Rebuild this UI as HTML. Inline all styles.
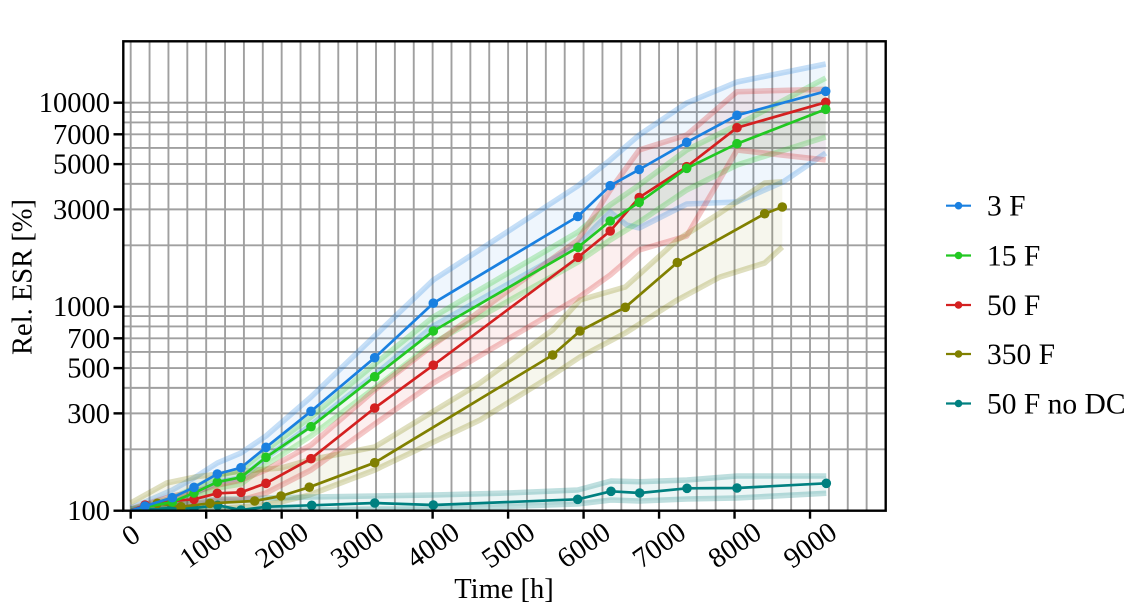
<!DOCTYPE html>
<html><head><meta charset="utf-8"><style>
html,body{margin:0;padding:0;background:#fff;}
svg{display:block;font-family:"Liberation Serif","Times New Roman",serif;}
</style></head><body>
<svg width="1130" height="607" viewBox="0 0 1130 607" xmlns="http://www.w3.org/2000/svg">
<defs><clipPath id="pc"><rect x="123.3" y="41.3" width="762.4" height="469.4"/></clipPath></defs>
<rect width="1130" height="607" fill="#fff"/>
<g id="grid" stroke="#a0a0a0" stroke-width="1.9"></g>
<g id="bands" clip-path="url(#pc)"></g>
<g id="lines" clip-path="url(#pc)"></g>
<g id="axes"></g>
<text x="22" y="277" font-size="28.5" text-anchor="middle" transform="rotate(-90 22 277)" dy="9.5">Rel. ESR [%]</text>
<text x="504" y="598" font-size="28.5" text-anchor="middle">Time [h]</text>
<g id="legend" font-size="29.5"></g>
</svg>
<script>
(function(){
var NS="http://www.w3.org/2000/svg";
function el(p,n,a,t){var e=document.createElementNS(NS,n);for(var k in a)e.setAttribute(k,a[k]);if(t!==undefined)e.textContent=t;p.appendChild(e);return e;}
var L=123.3,R=885.7,T=41.3,B=510.7;
function X(t){return 130.7+t*0.07548;}
function Y(v){return 510.7-204*Math.log10(v/100);}
var g=document.getElementById('grid');
for(var t=0;t<10000;t+=250){var x=X(t);el(g,'line',{x1:x,y1:T,x2:x,y2:B});}
var hv=[];for(var v=200;v<1000;v+=100)hv.push(v);for(v=1000;v<=10000;v+=1000)hv.push(v);hv.push(20000);
hv.forEach(function(v){var y=Y(v);el(g,'line',{x1:L,y1:y,x2:R,y2:y});});
var S=[
{c:"#1a80e0",m:[[130.7,510.7],[145,506],[172.3,497.7],[194,487.3],[217.3,474],[241,467.7],[266,447.3],[311,411.3],[374.7,357.7],[433.3,303.2],[577.7,216.5],[610.2,185.7],[639.2,169.5],[686.7,142.3],[737,115.3],[825.7,91.3]],
 u:[[130.7,508],[145,502],[172.3,490],[194,478],[217.3,463],[241,453],[266,436],[311,397],[374.7,336],[433.3,280],[577.7,186],[610.2,160],[639.2,135],[686.7,103],[737,82],[825.7,64]],
 l:[[130.7,511],[145,509],[172.3,503],[194,494],[217.3,482],[241,478],[266,458],[311,425],[374.7,375],[433.3,326],[577.7,245],[610.2,212],[626.7,225],[639.2,228],[686.7,204],[737,202],[783,182],[825.7,153]]},
{c:"#22c822",m:[[130.7,510.7],[145,507],[172.3,502],[194,493],[217.3,482],[241,477.3],[266,457.3],[311,426.7],[374.7,376.7],[433.3,331],[578,247.3],[610.2,221],[639.2,202.3],[686.7,168.3],[737,143.7],[825.7,109.3]],
 u:[[130.7,509],[172.3,498],[194,488],[217.3,476],[241,470],[266,450],[311,417],[374.7,364],[433.3,317],[578,232],[610.2,205],[639.2,185],[686.7,150],[737,125],[825.7,78]],
 l:[[130.7,511],[172.3,505],[194,498],[217.3,488],[241,484],[266,465],[311,436],[374.7,388],[433.3,343],[578,262],[610.2,240],[639.2,222],[686.7,190],[737,165],[825.7,137]]},
{c:"#d42020",m:[[130.7,510.7],[145,505],[172.3,501],[194,499.3],[217.3,493.3],[241,492.3],[266,483.3],[311,458.7],[374.7,408],[433.3,365.2],[578,257.3],[610.2,231],[639.2,197.5],[686.7,166.7],[737,127.7],[825.7,102.3]],
 u:[[130.7,509],[172.3,496],[194,492],[217.3,485],[241,480],[266,470],[311,445],[374.7,390],[433.3,345],[578,240],[610.2,190],[639.2,150],[686.7,135],[737,91.7],[825.7,89.3]],
 l:[[130.7,511],[172.3,505],[194,504],[217.3,500],[241,500],[266,493],[311,470],[374.7,424],[433.3,383],[578,298],[610.2,275],[639.2,250],[686.7,236],[737,150],[825.7,160]]},
{c:"#808000",m:[[130.7,510.7],[157.3,503.3],[181,506.7],[210,503.3],[254.7,501],[281,496],[309.3,487.2],[374.7,462.7],[552.7,355],[580,331],[625.3,307.3],[677.3,262.5],[764.7,213.7],[782.3,207]],
 u:[[130.7,503],[166.7,483],[196.7,476.7],[226.7,473],[254.7,470],[281,468],[309.3,460],[374.7,447],[480,383],[552.7,330],[580,300],[625.3,287],[677.3,240],[720,213],[764.7,183],[782.3,181.7]],
 l:[[130.7,511],[157,508],[181,510],[210,509],[254.7,506],[281,502],[309.3,495],[374.7,470],[480,420],[552.7,375],[580,357],[625.3,333],[677.3,300],[720,277],[764.7,263],[782.3,247]]},
{c:"#008080",m:[[130.7,510.7],[171.7,508],[194,508],[217.7,505.3],[241,510],[266.7,506.7],[311.7,505.3],[374.7,503],[433.3,505],[577.7,499.3],[611,491.3],[639.7,493],[687,488.3],[737,488],[826.3,483.3]],
 u:[[130.7,509],[171.7,505],[194,502],[217.7,499],[241,499],[266.7,498],[311.7,497],[374.7,496],[433.3,495],[500,493.3],[577.7,490],[611,481],[639.7,481.7],[687,480],[737,476],[826.3,476]],
 l:[[130.7,511],[171.7,511],[194,511],[217.7,510],[241,512],[266.7,510],[311.7,510],[374.7,509],[433.3,509],[500,506.7],[577.7,504],[611,500],[639.7,501],[687,499],[737,498],[826.3,493.3]]}
];
function pts(a){return a.map(function(p){return p[0]+","+p[1];}).join(" ");}
var bg=document.getElementById('bands'),lg=document.getElementById('lines');
S.forEach(function(s){
 el(bg,'polygon',{points:pts(s.u.concat(s.l.slice().reverse())),fill:s.c,'fill-opacity':0.07,stroke:'none'});
});
S.forEach(function(s){
 el(bg,'polyline',{points:pts(s.u),fill:'none',stroke:s.c,'stroke-opacity':0.25,'stroke-width':5.5,'stroke-linejoin':'round'});
 el(bg,'polyline',{points:pts(s.l),fill:'none',stroke:s.c,'stroke-opacity':0.25,'stroke-width':5.5,'stroke-linejoin':'round'});
});
S.slice().reverse().forEach(function(s){
 el(lg,'polyline',{points:pts(s.m),fill:'none',stroke:s.c,'stroke-width':2.7,'stroke-linejoin':'round'});
 s.m.forEach(function(p,i){if(i>0)el(lg,'circle',{cx:p[0],cy:p[1],r:4.8,fill:s.c});});
});
var ax=document.getElementById('axes');
el(ax,'rect',{x:L,y:T,width:R-L,height:B-T,fill:'none',stroke:'#000','stroke-width':2.4});
[100,300,500,700,1000,3000,5000,7000,10000].forEach(function(v){var y=Y(v);
 el(ax,'line',{x1:113.5,y1:y,x2:L,y2:y,stroke:'#000','stroke-width':2.4});
 el(ax,'text',{x:110,y:y+9.5,'font-size':28.5,'text-anchor':'end'},String(v));});
for(var k=0;k<=9;k++){var x=X(k*1000);
 el(ax,'line',{x1:x,y1:B,x2:x,y2:B+8,stroke:'#000','stroke-width':2.4});
 var lab=String(k*1000);var cy=(k==0)?535:545;
 el(ax,'text',{x:0,y:0,'font-size':28.5,'text-anchor':'middle',dy:9.5,transform:'translate('+x+','+cy+') rotate(-35)'},lab);}
var leg=document.getElementById('legend');
var names=["3 F","15 F","50 F","350 F","50 F no DC"],ys=[205.7,255.5,305,354,403.5];
S.forEach(function(s,i){var y=ys[i];
 el(leg,'line',{x1:946,y1:y,x2:971,y2:y,stroke:s.c,'stroke-width':2.2});
 el(leg,'circle',{cx:958.5,cy:y,r:3.8,fill:s.c});
 el(leg,'text',{x:987,y:y+10},names[i]);});
})();
</script>
</body></html>
